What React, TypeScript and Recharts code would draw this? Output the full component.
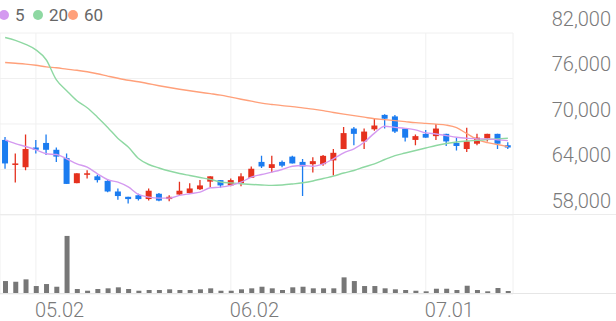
import React from 'react';
import { ComposedChart, Bar, Line, XAxis, YAxis, CartesianGrid } from 'recharts';

const dates = [
  '04.27', '04.28', '04.29', '05.02', '05.03', '05.04', '05.06', '05.09', '05.10', '05.11',
  '05.12', '05.13', '05.16', '05.17', '05.18', '05.19', '05.20', '05.23', '05.24', '05.25',
  '05.26', '05.27', '06.02', '06.07', '06.08', '06.09', '06.10', '06.13', '06.14', '06.15',
  '06.16', '06.17', '06.20', '06.21', '06.22', '06.23', '06.24', '06.27', '06.28', '06.29',
  '06.30', '07.01', '07.04', '07.05', '07.06', '07.07', '07.08', '07.11', '07.12', '07.13',
];

const opens = [
  67900, 64600, 64300, 66900, 67500, 66600, 65500, 62200, 63300, 63100,
  62500, 61100, 60400, 60600, 60100, 60800, 60100, 60700, 60900, 61400,
  62400, 62600, 61900, 62200, 62900, 65000, 64200, 65000, 65700, 65000,
  64700, 64700, 65200, 66700, 69400, 67700, 69300, 71200, 71000, 69400,
  67900, 68700, 68400, 68700, 67500, 66700, 67400, 68100, 68700, 67200,
];
const highs = [
  68300, 66100, 68600, 67900, 68600, 66900, 66100, 63500, 63900, 63300,
  62700, 61500, 60400, 60800, 61500, 60900, 60600, 62400, 62200, 62600,
  63100, 62600, 62800, 63500, 64400, 65800, 65800, 65200, 65800, 65400,
  65600, 65900, 66700, 69600, 69600, 69400, 70700, 71300, 71200, 69400,
  68600, 69200, 70000, 68700, 68200, 69500, 68700, 68700, 68700, 67600,
];
const lows = [
  64100, 62300, 63900, 66100, 65900, 65000, 62100, 62200, 62800, 62300,
  61000, 60000, 59500, 59900, 59900, 59800, 59800, 60600, 60800, 61300,
  61600, 61600, 61800, 61800, 62900, 64200, 63600, 64300, 64800, 60500,
  63600, 64500, 63200, 66700, 67200, 66700, 69100, 69400, 68800, 67700,
  67200, 68200, 67900, 67100, 66500, 66300, 67200, 67700, 66700, 66700,
];
const closes = [
  64800, 64800, 66700, 66600, 66600, 65700, 62100, 63500, 63500, 62600,
  61100, 60500, 60100, 60100, 61200, 59900, 60400, 61200, 61500, 61900,
  63100, 61900, 62600, 63100, 64100, 64400, 64700, 64500, 64800, 64400,
  65100, 65800, 66200, 68800, 68700, 69000, 69800, 70700, 69000, 68200,
  68400, 68200, 69400, 67700, 67100, 67700, 68200, 68700, 67400, 66900,
];
const volumes = [
  1300000, 1230000, 1470000, 800000, 1000000, 730000, 5830000, 500000, 330000, 500000,
  570000, 670000, 500000, 330000, 400000, 400000, 470000, 400000, 400000, 470000,
  570000, 330000, 330000, 470000, 570000, 730000, 570000, 400000, 670000, 730000,
  570000, 570000, 570000, 1670000, 1300000, 800000, 800000, 570000, 470000, 400000,
  330000, 270000, 530000, 530000, 400000, 830000, 400000, 270000, 600000, 300000,
];
const ma5 = [
  67910, 67420, 67030, 66590, 66070, 65970, 65410, 64750, 64300, 63430,
  62650, 62330, 61700, 60710, 60360, 60230, 60230, 60580, 60810, 61020,
  61590, 61670, 61900, 62330, 62990, 63340, 63650, 64000, 64430, 64530,
  64430, 64750, 65410, 66200, 66720, 67590, 68800, 69700, 69560, 69430,
  69220, 68830, 68690, 68470, 68250, 68120, 68040, 68040, 67910, 67810,
];
const ma20 = [
  81400, 81030, 80500, 79780, 78470, 75810, 74390, 73070, 72150, 70900,
  69550, 68100, 66960, 65450, 64660, 64200, 63800, 63470, 63210, 62950,
  62690, 62360, 62230, 62120, 62030, 61960, 61900, 61960, 62090, 62250,
  62490, 62820, 63120, 63540, 63870, 64330, 64750, 65320, 65840, 66170,
  66500, 66830, 67160, 67420, 67620, 67750, 67840, 67950, 68040, 68120,
];
const ma60 = [
  78110, 78010, 77900, 77740, 77540, 77410, 77240, 77080, 76890, 76620,
  76320, 76030, 75770, 75570, 75310, 75050, 74810, 74590, 74390, 74190,
  74000, 73800, 73540, 73270, 73010, 72750, 72580, 72420, 72290, 72120,
  71960, 71760, 71520, 71300, 71100, 70900, 70700, 70570, 70440, 70310,
  70180, 70080, 69980, 69850, 69520, 68730, 67950, 67550, 67290, 67020,
];

const dateTicks = ['05.02', '06.02', '07.01'];
const priceTicks = [58000, 64000, 70000, 76000, 82000];

const UP = '#e5311e';
const DOWN = '#1b7cf0';
const MA5_COLOR = '#d49af0';
const MA20_COLOR = '#8ed8a2';
const MA60_COLOR = '#ffa07a';
const FONT = 'Roboto, sans-serif';

const data = dates.map((date, i) => ({
  date,
  open: opens[i],
  high: highs[i],
  low: lows[i],
  close: closes[i],
  range: [lows[i], highs[i]],
  volume: volumes[i],
  ma5: ma5[i],
  ma20: ma20[i],
  ma60: ma60[i],
}));

const legendItems = [
  { label: '5', color: MA5_COLOR, left: -1 },
  { label: '20', color: MA20_COLOR, left: 33 },
  { label: '60', color: MA60_COLOR, left: 68 },
];

// wick spans the bar (low..high), body is placed inside it by open/close
const Candle = (props: any) => {
  const { x, y, width, height, payload } = props;
  if (x == null || y == null) return null;
  const { open, close, high, low } = payload;
  const color = close >= open ? UP : DOWN;
  const top = Math.min(y, y + height);
  const h = Math.abs(height);
  const perUnit = high > low ? h / (high - low) : 0;
  const bodyTop = top + (high - Math.max(open, close)) * perUnit;
  const bodyH = Math.max(1.5, Math.abs(open - close) * perUnit);
  const cx = x + width / 2;
  return (
    <g>
      <line x1={cx} x2={cx} y1={top} y2={top + h} stroke={color} strokeWidth={1.3} />
      <rect x={cx - 3} y={bodyTop} width={6} height={bodyH} fill={color} />
    </g>
  );
};

const PriceTick = (props: any) => {
  const { y, payload } = props;
  return (
    <text x={611} y={y - 7} textAnchor="end" fontSize={20} fontWeight={300} fill="#7a7a7a" fontFamily={FONT}>
      {Number(payload.value).toLocaleString('en-US')}
    </text>
  );
};

const DateTick = (props: any) => {
  const { x, y, payload } = props;
  return (
    <text x={x - 1} y={y + 23} textAnchor="start" fontSize={20} fontWeight={300} fill="#7a7a7a" fontFamily={FONT}>
      {payload.value}
    </text>
  );
};

export default function App() {
  return (
    <div style={{ position: 'absolute', left: 0, top: 0, width: 616, height: 321, background: '#fff', fontFamily: FONT }}>
      <ComposedChart width={616} height={321} data={data} margin={{ top: 33, right: 0, bottom: 0, left: 0 }}>
        <CartesianGrid xAxisId="date" yAxisId="price" stroke="#f0f0f0" />
        <XAxis
          xAxisId="date"
          dataKey="date"
          ticks={dateTicks}
          interval={0}
          height={27}
          tickSize={0}
          tickMargin={0}
          tickLine={false}
          axisLine={false}
          tick={<DateTick />}
        />
        <XAxis xAxisId="vol" dataKey="date" hide />
        <YAxis
          yAxisId="price"
          orientation="right"
          width={103}
          domain={[47582, 82000]}
          ticks={priceTicks}
          allowDataOverflow
          tickSize={0}
          tickLine={false}
          axisLine={false}
          tick={<PriceTick />}
        />
        <YAxis yAxisId="vol" hide domain={[0, 26200000]} />
        <Bar xAxisId="vol" yAxisId="vol" dataKey="volume" fill="#777" barSize={5} isAnimationActive={false} />
        <Bar xAxisId="date" yAxisId="price" dataKey="range" shape={<Candle />} isAnimationActive={false} />
        <Line xAxisId="date" yAxisId="price" type="monotone" dataKey="ma60" stroke={MA60_COLOR} strokeWidth={1.4} dot={false} isAnimationActive={false} />
        <Line xAxisId="date" yAxisId="price" type="monotone" dataKey="ma20" stroke={MA20_COLOR} strokeWidth={1.4} dot={false} isAnimationActive={false} />
        <Line xAxisId="date" yAxisId="price" type="monotone" dataKey="ma5" stroke={MA5_COLOR} strokeWidth={1.4} dot={false} isAnimationActive={false} />
      </ComposedChart>
      <div style={{ position: 'absolute', left: 0, top: 214, width: 616, height: 1, background: '#ececec' }} />
      <div style={{ position: 'absolute', left: 0, top: 293, width: 616, height: 1, background: '#e6e6e6' }} />
      {legendItems.map((item) => (
        <div key={item.label} style={{ position: 'absolute', left: item.left, top: 4, height: 22, display: 'flex', alignItems: 'center', fontSize: 17, color: '#666' }}>
          <span style={{ display: 'inline-block', width: 10, height: 10, borderRadius: 5, background: item.color, marginRight: 6 }} />
          <span>{item.label}</span>
        </div>
      ))}
    </div>
  );
}
